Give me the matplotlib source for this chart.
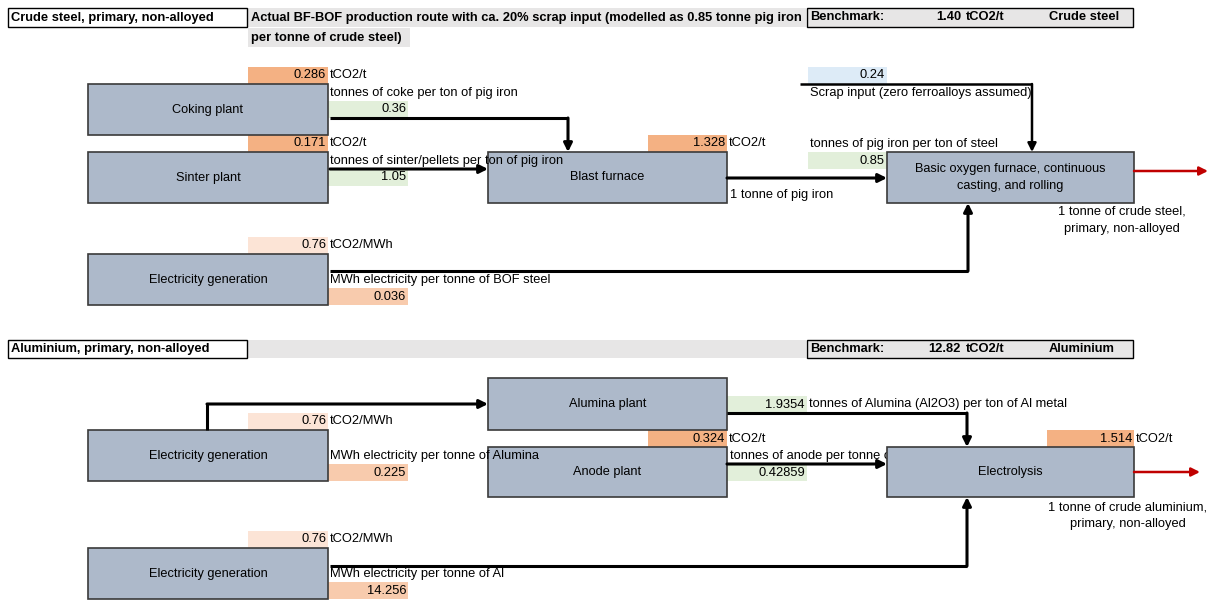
import matplotlib
matplotlib.use('Agg')
import matplotlib.pyplot as plt
from matplotlib.patches import Rectangle

# ---- data ----
steel_title = "Crude steel, primary, non-alloyed"
steel_note = ["Actual BF-BOF production route with ca. 20% scrap input (modelled as 0.85 tonne pig iron",
              "per tonne of crude steel)"]
steel_benchmark = 1.40
steel_product = "Crude steel"
steel_boxes = ["Coking plant", "Sinter plant", "Blast furnace",
               "Basic oxygen furnace, continuous\ncasting, and rolling", "Electricity generation"]
steel_emissions = [0.286, 0.171, 1.328]          # tCO2/t coke, sinter, pig iron
steel_inputs = [0.36, 1.05, 0.85, 0.24, 0.036]   # coke, sinter, pig iron, scrap, MWh
steel_grid_factor = 0.76

alu_title = "Aluminium, primary, non-alloyed"
alu_benchmark = 12.82
alu_product = "Aluminium"
alu_boxes = ["Alumina plant", "Anode plant", "Electrolysis",
             "Electricity generation", "Electricity generation"]
alu_emissions = [0.324, 1.514]                   # tCO2/t anode, electrolysis
alu_inputs = [1.9354, 0.42859, 0.225, 14.256]    # alumina, anode, MWh/t alumina, MWh/t Al
alu_grid_factor = [0.76, 0.76]

# ---- styles ----
BOX = '#adb9ca'
ORANGE = '#f4b183'
ORANGE_LT = '#f8cbad'
PEACH = '#fce4d6'
GREEN = '#e2efda'
BLUE = '#ddebf7'
BAND = '#e7e6e6'
FONT = 'Liberation Sans'
FS = 9.3

fig = plt.figure(figsize=(12.10, 6.01), dpi=100)
ax = fig.add_axes([0, 0, 1, 1])
ax.set_xlim(0, 1210)
ax.set_ylim(601, 0)
ax.axis('off')


def txt(x, y, s, ha='left', size=FS, z=3, **kw):
    ax.text(x, y, s, ha=ha, va='center', fontsize=size, family=FONT, zorder=z, **kw)


def box(x0, y0, x1, y1, label):
    ax.add_patch(Rectangle((x0, y0), x1 - x0, y1 - y0, facecolor=BOX,
                           edgecolor='#3a3a3a', lw=1.2, zorder=4))
    txt((x0 + x1) / 2, (y0 + y1) / 2, label, ha='center', size=9.2, z=5, linespacing=1.5)


def cell(x0, y0, x1, y1, color, value, fmt):
    ax.add_patch(Rectangle((x0, y0), x1 - x0, y1 - y0, facecolor=color,
                           edgecolor='none', zorder=1))
    txt(x1 - 2, (y0 + y1) / 2, fmt.format(value), ha='right')


def flow(xs, ys, color='black', lw=2.2):
    ax.plot(xs[:-1], ys[:-1], color=color, lw=lw, solid_capstyle='butt',
            solid_joinstyle='miter', zorder=6)
    ax.annotate('', xy=(xs[-1], ys[-1]), xytext=(xs[-2], ys[-2]),
                arrowprops=dict(arrowstyle='-|>,head_length=0.5,head_width=0.25',
                                color=color, lw=lw, shrinkA=0, shrinkB=0),
                zorder=6)


def header(y0, y1, title, bench, product, note=None):
    ax.add_patch(Rectangle((248, y0), 558, y1 - y0, facecolor=BAND, edgecolor='none', zorder=1))
    ax.add_patch(Rectangle((8, y0), 239, y1 - y0, facecolor='white', edgecolor='black', lw=1, zorder=2))
    ax.add_patch(Rectangle((807, y0), 326, y1 - y0, facecolor=BAND, edgecolor='black', lw=1, zorder=2))
    yc = (y0 + y1) / 2
    hk = dict(fontsize=9.3, family=FONT, fontweight='bold', va='center', zorder=3)
    ax.text(11, yc, title, **hk)
    ax.text(810, yc, "Benchmark:", **hk)
    ax.text(961, yc, f"{bench:.2f}", ha='right', **hk)
    ax.text(966, yc, "tCO2/t", **hk)
    ax.text(1049, yc, product, **hk)
    if note:
        ax.text(251, yc, note[0], **hk)
        ax.add_patch(Rectangle((248, y1 + 1), 162, y1 - y0, facecolor=BAND, edgecolor='none', zorder=1))
        ax.text(251, y1 + 1 + (y1 - y0) / 2, note[1], **hk)


# ---- steel ----
header(8, 27, steel_title, steel_benchmark, steel_product, steel_note)

box(88, 84, 328, 135, steel_boxes[0])
box(88, 152, 328, 203, steel_boxes[1])
box(488, 152, 727, 203, steel_boxes[2])
box(887, 152, 1134, 203, steel_boxes[3])
box(88, 254, 328, 305, steel_boxes[4])

cell(248, 67, 328, 84, ORANGE, steel_emissions[0], "{:.3f}")
txt(330, 75.5, "tCO2/t")
txt(330, 93, "tonnes of coke per ton of pig iron")
cell(328, 101, 408, 118, GREEN, steel_inputs[0], "{:.2f}")
flow([330, 568, 568], [118, 118, 152])

cell(248, 135, 328, 152, ORANGE, steel_emissions[1], "{:.3f}")
txt(330, 143.5, "tCO2/t")
txt(330, 161, "tonnes of sinter/pellets per ton of pig iron", z=5)
cell(328, 169, 408, 186, GREEN, steel_inputs[1], "{:.2f}")
flow([330, 488], [169, 169])

cell(648, 135, 727, 152, ORANGE, steel_emissions[2], "{:.3f}")
txt(729, 143.5, "tCO2/t")
flow([727, 887], [178, 178])
txt(730, 195, "1 tonne of pig iron")

cell(808, 67, 887, 84, BLUE, steel_inputs[3], "{:.2f}")
flow([800, 1032, 1032], [84, 84, 152], lw=1.8)
txt(810, 93, "Scrap input (zero ferroalloys assumed)")
txt(810, 144, "tonnes of pig iron per ton of steel")
cell(808, 152, 887, 169, GREEN, steel_inputs[2], "{:.2f}")

flow([1134, 1208], [171, 171], color='#c00000', lw=1.8)
txt(1122, 212, "1 tonne of crude steel,", ha='center')
txt(1122, 229, "primary, non-alloyed", ha='center')

cell(248, 237, 328, 254, PEACH, steel_grid_factor, "{:.2f}")
txt(330, 245.5, "tCO2/MWh")
flow([330, 968, 968], [271, 271, 203])
txt(330, 280, "MWh electricity per tonne of BOF steel")
cell(328, 288, 408, 305, ORANGE_LT, steel_inputs[4], "{:.3f}")

# ---- aluminium ----
header(340, 358, alu_title, alu_benchmark, alu_product)

box(488, 378, 727, 430, alu_boxes[0])
box(488, 447, 727, 497, alu_boxes[1])
box(887, 447, 1134, 497, alu_boxes[2])
box(88, 430, 328, 481, alu_boxes[3])
box(88, 548, 328, 599, alu_boxes[4])

cell(248, 413, 328, 430, PEACH, alu_grid_factor[0], "{:.2f}")
txt(330, 421.5, "tCO2/MWh")
flow([207, 207, 488], [430, 404, 404])
txt(330, 456, "MWh electricity per tonne of Alumina", z=5)
cell(328, 464, 408, 481, ORANGE_LT, alu_inputs[2], "{:.3f}")

cell(727, 396, 807, 413, GREEN, alu_inputs[0], "{:.4f}")
txt(809, 404.5, "tonnes of Alumina (Al2O3) per ton of Al metal")
flow([727, 967, 967], [413, 413, 447])

cell(648, 430, 727, 447, ORANGE, alu_emissions[0], "{:.3f}")
txt(729, 438.5, "tCO2/t")
txt(730, 456, "tonnes of anode per tonne of Al metal", z=3)
flow([727, 887], [464, 464])
cell(727, 464, 807, 481, GREEN, alu_inputs[1], "{:.5f}")

cell(1047, 430, 1134, 447, ORANGE, alu_emissions[1], "{:.3f}")
txt(1136, 438.5, "tCO2/t")
flow([1134, 1200], [472, 472], color='#c00000', lw=1.8)
txt(1128, 507, "1 tonne of crude aluminium,", ha='center')
txt(1128, 524, "primary, non-alloyed", ha='center')

cell(248, 531, 328, 548, PEACH, alu_grid_factor[1], "{:.2f}")
txt(330, 539.5, "tCO2/MWh")
flow([330, 967, 967], [566, 566, 497])
txt(330, 574, "MWh electricity per tonne of Al")
cell(328, 582, 408, 599, ORANGE_LT, alu_inputs[3], "{:.3f}")

fig.savefig('out.png', dpi=100)
